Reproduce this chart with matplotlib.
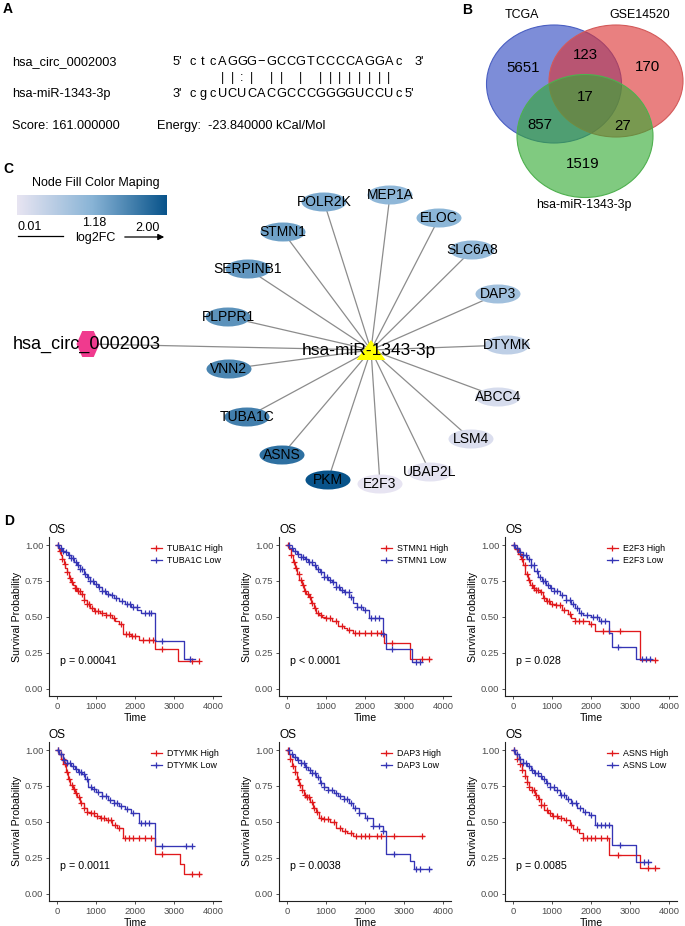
import numpy as np
import matplotlib
matplotlib.use('Agg')
import matplotlib.pyplot as plt
from matplotlib.patches import Ellipse, Polygon
from matplotlib.colors import LinearSegmentedColormap
from matplotlib.lines import Line2D

plt.rcParams['font.family'] = ['Liberation Sans', 'DejaVu Sans']

# ---------------- data ----------------
# A: miRanda alignment
circ_name = 'hsa_circ_0002003'
mir_name = 'hsa-miR-1343-3p'
seq_5 = 'ctcAGGG\u2212GCCGTCCCCAGGAc'
seq_3 = 'cgcUCUCACGCCCGGGGUCCUc'
pairs = '   ||:| || | |||||||| '
score = 161.0
energy = -23.84

# B: venn
venn_sets = ['TCGA', 'GSE14520', 'hsa-miR-1343-3p']
venn_regions = ['100', '010', '001', '110', '101', '011', '111']
venn_counts = [5651, 170, 1519, 123, 857, 27, 17]

# C: network
genes = ['MEP1A', 'POLR2K', 'ELOC', 'STMN1', 'SLC6A8', 'SERPINB1', 'DAP3', 'PLPPR1',
         'DTYMK', 'VNN2', 'ABCC4', 'TUBA1C', 'LSM4', 'ASNS', 'UBAP2L', 'PKM', 'E2F3']
log2fc = [0.95, 1.1, 0.97, 1.2, 0.9, 1.3, 0.75, 1.35,
          0.45, 1.5, 0.2, 1.55, 0.15, 1.7, 0.05, 2.0, 0.03]
fc_ticks = [0.01, 1.18, 2.00]

# D: Kaplan-Meier curves (time, survival after step) and censor times
km = {
    'TUBA1C': {
        'High': ([0, 30, 60, 90, 130, 170, 210, 250, 300, 350, 400, 450, 520, 600, 680, 760, 840, 950,
                  1100, 1250, 1400, 1500, 1600, 1700, 1900, 2100, 2500, 3100, 3650],
                 [1.0, .98, .96, .93, .90, .87, .84, .81, .77, .74, .72, .70, .68, .66, .62, .59, .56, .54,
                  .53, .51, .49, .47, .45, .38, .37, .34, .28, .19, .19],
                 [25, 70, 140, 200, 260, 330, 390, 450, 480, 540, 590, 640, 700, 770, 820, 900, 980, 1050,
                  1150, 1250, 1350, 1450, 1650, 1780, 1850, 1930, 2000, 2200, 2350, 2450, 2700, 3450, 3650]),
        'Low': ([0, 50, 120, 200, 280, 360, 440, 520, 600, 680, 760, 850, 950, 1050, 1150, 1250, 1350,
                 1450, 1600, 1750, 1900, 2050, 2150, 2500, 3250, 3550],
                [1.0, .98, .96, .95, .93, .91, .88, .86, .83, .80, .78, .75, .73, .71, .68, .66, .65,
                 .63, .61, .59, .57, .55, .53, .33, .21, .21],
                [20, 90, 160, 230, 300, 370, 420, 480, 540, 600, 650, 720, 790, 850, 920, 990, 1080, 1160,
                 1230, 1320, 1420, 1520, 1660, 1800, 1880, 1960, 2040, 2250, 2350, 2420, 2700, 3400]),
        'p': 'p = 0.00041'},
    'STMN1': {
        'High': ([0, 40, 90, 150, 200, 260, 320, 380, 440, 500, 560, 620, 680, 750, 820, 900, 1000, 1150,
                  1300, 1450, 1550, 1700, 2480, 3150, 3700],
                 [1.0, .97, .93, .88, .84, .80, .76, .72, .68, .66, .64, .60, .56, .53, .51, .50, .49, .47,
                  .44, .42, .41, .39, .32, .21, .21],
                 [30, 110, 180, 240, 300, 360, 420, 470, 530, 590, 650, 720, 800, 880, 1000, 1100, 1250, 1400,
                  1600, 1750, 1850, 2000, 2150, 2300, 2400, 2700, 3450, 3650]),
        'Low': ([0, 60, 150, 250, 350, 450, 550, 650, 750, 850, 950, 1050, 1150, 1250, 1350, 1450, 1600,
                 1700, 1800, 1950, 2100, 2450, 2530, 3200, 3450],
                [1.0, .98, .96, .94, .92, .90, .88, .86, .83, .81, .78, .76, .74, .71, .69, .67, .64,
                 .60, .57, .55, .49, .38, .28, .185, .185],
                [40, 120, 200, 280, 350, 420, 500, 570, 640, 720, 800, 880, 950, 1020, 1100, 1180, 1260, 1340,
                 1420, 1500, 1580, 1650, 1800, 1900, 2000, 2150, 2250, 2350, 2450, 2700, 3300, 3400]),
        'p': 'p < 0.0001'},
    'E2F3': {
        'High': ([0, 50, 120, 200, 260, 320, 380, 440, 520, 600, 700, 780, 850, 950, 1100, 1250, 1400,
                  1500, 1600, 1800, 1950, 2100, 3250, 3700],
                 [1.0, .97, .94, .90, .86, .80, .76, .72, .70, .69, .67, .63, .61, .59, .58, .55, .52,
                  .49, .47, .47, .45, .40, .20, .20],
                 [30, 100, 170, 230, 300, 350, 420, 480, 540, 600, 650, 720, 800, 860, 920, 1000, 1100, 1200,
                  1300, 1450, 1600, 1700, 1800, 2000, 2300, 2450, 2750, 3650]),
        'Low': ([0, 60, 150, 250, 350, 450, 550, 650, 750, 850, 950, 1050, 1200, 1350, 1500, 1600, 1700,
                 1800, 2000, 2200, 2450, 2530, 3150, 3550],
                [1.0, .98, .95, .93, .90, .86, .82, .78, .75, .72, .70, .68, .65, .62, .59, .56, .53,
                 .51, .50, .47, .39, .29, .21, .21],
                [20, 100, 180, 260, 330, 400, 470, 540, 610, 680, 760, 830, 900, 980, 1060, 1140, 1250, 1350,
                 1450, 1550, 1650, 1750, 1900, 2050, 2150, 2250, 2350, 2700, 3300, 3400, 3500]),
        'p': 'p = 0.028'},
    'DTYMK': {
        'High': ([0, 40, 100, 160, 220, 280, 340, 400, 460, 520, 600, 680, 760, 850, 950, 1100, 1250,
                  1400, 1550, 1700, 2500, 3150, 3250, 3700],
                 [1.0, .97, .94, .90, .85, .80, .76, .73, .70, .67, .63, .60, .57, .56, .54, .53, .51,
                  .48, .46, .39, .28, .21, .14, .14],
                 [30, 90, 150, 210, 260, 320, 380, 440, 500, 560, 620, 700, 780, 860, 940, 1020, 1120, 1200,
                  1300, 1380, 1500, 1600, 1750, 1850, 1950, 2100, 2250, 2400, 2700, 3450, 3650]),
        'Low': ([0, 60, 150, 250, 350, 450, 550, 650, 720, 800, 900, 1000, 1150, 1300, 1450, 1600, 1750,
                 1900, 2100, 2500, 3450],
                [1.0, .97, .93, .91, .89, .87, .85, .83, .80, .74, .73, .71, .68, .65, .63, .61, .59,
                 .56, .49, .33, .33],
                [20, 100, 180, 260, 340, 420, 500, 560, 620, 700, 780, 860, 950, 1050, 1150, 1250, 1350, 1450,
                 1550, 1650, 1800, 1950, 2150, 2250, 2350, 2700, 3300, 3450]),
        'p': 'p = 0.0011'},
    'DAP3': {
        'High': ([0, 30, 80, 140, 200, 260, 320, 380, 440, 500, 580, 660, 740, 820, 950, 1100, 1250,
                  1400, 1550, 1700, 3500],
                 [1.0, .97, .94, .89, .85, .80, .76, .72, .69, .67, .64, .60, .57, .53, .52, .50, .46,
                  .44, .42, .40, .40],
                 [20, 80, 150, 210, 270, 330, 390, 450, 510, 570, 630, 700, 780, 870, 960, 1050, 1200, 1350,
                  1500, 1650, 1780, 1900, 2000, 2100, 2300, 2400, 2750, 3450]),
        'Low': ([0, 60, 150, 250, 350, 450, 550, 650, 750, 850, 950, 1050, 1200, 1300, 1450, 1600, 1700,
                 1850, 2000, 2200, 2450, 2530, 3150, 3250, 3700],
                [1.0, .97, .95, .93, .91, .88, .86, .84, .81, .77, .74, .72, .70, .68, .66, .63, .60,
                 .56, .53, .47, .44, .28, .23, .17, .17],
                [40, 120, 200, 280, 360, 430, 500, 580, 650, 720, 800, 880, 960, 1050, 1150, 1250, 1350, 1450,
                 1550, 1650, 1750, 1850, 2050, 2200, 2350, 2450, 2750, 3300, 3400, 3650]),
        'p': 'p = 0.0038'},
    'ASNS': {
        'High': ([0, 40, 100, 170, 230, 300, 360, 420, 480, 560, 640, 720, 800, 900, 1000, 1150, 1300,
                  1450, 1550, 1700, 1800, 2450, 3250, 3750],
                 [1.0, .97, .94, .90, .86, .82, .78, .74, .72, .69, .66, .62, .58, .56, .54, .53, .51,
                  .48, .45, .42, .39, .27, .18, .18],
                 [30, 100, 180, 240, 300, 360, 420, 480, 540, 600, 660, 720, 790, 860, 940, 1020, 1120, 1220,
                  1350, 1500, 1650, 1800, 1900, 2000, 2100, 2250, 2400, 2700, 3450, 3650]),
        'Low': ([0, 60, 150, 250, 350, 450, 550, 650, 750, 850, 950, 1050, 1200, 1350, 1500, 1650, 1800,
                 1950, 2100, 2550, 3150, 3550],
                [1.0, .97, .94, .91, .89, .86, .84, .82, .80, .77, .74, .72, .69, .66, .63, .60, .57,
                 .55, .48, .34, .22, .22],
                [20, 100, 180, 260, 340, 420, 490, 560, 640, 720, 800, 880, 960, 1040, 1120, 1220, 1320, 1420,
                 1520, 1620, 1720, 1850, 2000, 2150, 2250, 2350, 2450, 2750, 3350, 3450]),
        'p': 'p = 0.0085'},
}
km_order = ['TUBA1C', 'STMN1', 'E2F3', 'DTYMK', 'DAP3', 'ASNS']

# ---------------- layout ----------------
fig = plt.figure(figsize=(6.85, 9.26), dpi=100)
ov = fig.add_axes([0, 0, 1, 1])
ov.set_xlim(0, 685)
ov.set_ylim(926, 0)
ov.axis('off')

# panel letters
for lab, (lx, ly) in zip('ABCD', [(3, 9), (462, 10), (3, 169), (4, 521)]):
    ov.text(lx, ly, lab, fontsize=10, fontweight='bold', va='center', ha='left')

# ----- A -----
fs_a = 9.2
ov.text(12, 62, circ_name, fontsize=fs_a, va='center')
ov.text(12, 94, mir_name, fontsize=fs_a, va='center')
ov.text(12, 126, 'Score: %.6f' % score, fontsize=fs_a, va='center')
ov.text(157, 126, 'Energy:  %.6f kCal/Mol' % energy, fontsize=fs_a, va='center')

# one character per column, as in the miRanda text output
col0, pitch = 193, 9.8
ov.text(173, 62, "5'", fontsize=fs_a, va='center')
ov.text(173, 94, "3'", fontsize=fs_a, va='center')
for i, ch in enumerate(seq_5):
    ov.text(col0 + i * pitch, 62, ch, fontsize=fs_a, ha='center', va='center')
for i, ch in enumerate(seq_3):
    ov.text(col0 + i * pitch, 94, ch, fontsize=fs_a, ha='center', va='center')
for i, ch in enumerate(pairs):
    if ch != ' ':
        ov.text(col0 + i * pitch, 78, ch, fontsize=fs_a, ha='center', va='center')
ov.text(col0 + (len(seq_5) + 0.6) * pitch, 62, "3'", fontsize=fs_a, ha='left', va='center')
ov.text(col0 + (len(seq_3) - 0.45) * pitch, 94, "5'", fontsize=fs_a, ha='left', va='center')

# ----- B -----
v_centers = [(554, 84), (616, 81), (585, 136)]
v_radii = [(67.5, 59), (67, 56), (68, 61.5)]
v_fill = ['#2E48C0', '#DD3333', '#33AA33']
v_edge = ['#4A5FC2', '#D35A5A', '#4FB04F']
for c, r, fc, ec in zip(v_centers, v_radii, v_fill, v_edge):
    ov.add_patch(Ellipse(c, 2 * r[0], 2 * r[1], facecolor=fc, alpha=0.62, edgecolor='none'))
    ov.add_patch(Ellipse(c, 2 * r[0], 2 * r[1], facecolor='none', edgecolor=ec, lw=0.8))
v_label_pos = [(522, 15), (640, 15), (584, 205)]
for name, (lx, ly) in zip(venn_sets, v_label_pos):
    ov.text(lx, ly, name, fontsize=8.9, ha='center', va='center')
v_count_pos = {'100': (523, 68), '010': (648, 67), '001': (583, 164), '110': (585, 55),
               '101': (540, 125), '011': (623, 126), '111': (585, 97)}
for key, n in zip(venn_regions, venn_counts):
    cx, cy = v_count_pos[key]
    ov.text(cx, cy, str(n), fontsize=10.8, ha='center', va='center')

# ----- C -----
cmap = LinearSegmentedColormap.from_list('fc', [(0, '#E8E5F2'), (0.5, '#89B4D6'), (1, '#08538A')])
grad = np.linspace(0, 1, 256).reshape(1, -1)
ov.imshow(grad, cmap=cmap, extent=(17, 167, 215, 195), aspect='auto', zorder=2)
ov.set_xlim(0, 685)
ov.set_ylim(926, 0)
ov.text(96, 183, 'Node Fill Color Maping', fontsize=9, ha='center', va='center')
ov.text(18, 227, '%.2f' % fc_ticks[0], fontsize=9, ha='left', va='center')
ov.text(94, 223, '%.2f' % fc_ticks[1], fontsize=9, ha='center', va='center')
ov.text(160, 228, '%.2f' % fc_ticks[2], fontsize=9, ha='right', va='center')
ov.text(95, 238, 'log2FC', fontsize=9, ha='center', va='center')
ov.plot([18, 63], [236, 236], color='black', lw=0.9)
ov.annotate('', xy=(167, 237), xytext=(122, 237),
            arrowprops=dict(arrowstyle='-|>', color='black', lw=0.9, mutation_scale=9))

node_xy = [(390, 195), (324, 202), (439, 218), (283, 232), (472, 250), (248, 269), (498, 294),
           (228, 317), (507, 345), (229, 369), (498, 397), (247, 417), (471, 439), (282, 455),
           (430, 472), (328, 480), (380, 484)]
hub = (371, 350)
circ_xy = (88, 344)
ov.plot([circ_xy[0], hub[0]], [circ_xy[1], hub[1]], color='#8C8C8C', lw=0.9, zorder=3)
for (nx, ny) in node_xy:
    ov.plot([hub[0], nx], [hub[1], ny], color='#8C8C8C', lw=0.9, zorder=3)
fc_norm = (np.array(log2fc) - fc_ticks[0]) / (fc_ticks[2] - fc_ticks[0])
for (nx, ny), g, v in zip(node_xy, genes, fc_norm):
    ov.add_patch(Ellipse((nx, ny), 45, 19, facecolor=cmap(v), edgecolor='none', zorder=4))
    ov.text(nx, ny, g, fontsize=10, ha='center', va='center', zorder=6)

# hexagon for circRNA, triangle for miRNA
hw, hh = 23, 26
hexv = [(circ_xy[0] - hw / 2, circ_xy[1]), (circ_xy[0] - hw / 4, circ_xy[1] - hh / 2),
        (circ_xy[0] + hw / 4, circ_xy[1] - hh / 2), (circ_xy[0] + hw / 2, circ_xy[1]),
        (circ_xy[0] + hw / 4, circ_xy[1] + hh / 2), (circ_xy[0] - hw / 4, circ_xy[1] + hh / 2)]
ov.add_patch(Polygon(hexv, closed=True, facecolor='#F03A8E', edgecolor='none', zorder=4))
ov.text(13, circ_xy[1], circ_name, fontsize=13, ha='left', va='center', zorder=6)
tw, th = 29, 20
triv = [(hub[0] - tw / 2, hub[1] + th / 2), (hub[0] + tw / 2, hub[1] + th / 2), (hub[0], hub[1] - th / 2)]
ov.add_patch(Polygon(triv, closed=True, facecolor='#FFFF00', edgecolor='none', zorder=4))
ov.text(hub[0] - 2, hub[1], mir_name, fontsize=12.5, ha='center', va='center', zorder=6)

# ----- D -----
red, blue = '#E0191C', '#3535B5'
lefts = [49, 279, 505, 49, 279, 505]
bottoms = [696, 696, 696, 901, 901, 901]
W, H = 172, 159


def step_at(t, s, q):
    idx = np.searchsorted(np.array(t), np.array(q), side='right') - 1
    return np.array(s)[idx]


for k, gene in enumerate(km_order):
    ax = fig.add_axes([lefts[k] / 685, 1 - bottoms[k] / 926, W / 685, H / 926])
    for grp, col in [('High', red), ('Low', blue)]:
        t, s, cens = km[gene][grp]
        ax.step(t, s, where='post', color=col, lw=0.95)
        ax.plot(cens, step_at(t, s, cens), linestyle='none', marker='+', ms=4.5, mew=0.9, color=col)
    ax.set_xlim(-205, 4205)
    ax.set_ylim(-0.05, 1.056)
    ax.set_xticks([0, 1000, 2000, 3000, 4000])
    ax.set_yticks([0, 0.25, 0.5, 0.75, 1.0])
    ax.set_yticklabels(['0.00', '0.25', '0.50', '0.75', '1.00'])
    for sp in ['top', 'right']:
        ax.spines[sp].set_visible(False)
    for sp in ['left', 'bottom']:
        ax.spines[sp].set_linewidth(0.8)
        ax.spines[sp].set_color('#222222')
    ax.tick_params(length=2.5, width=0.6, labelsize=6.8, labelcolor='#4D4D4D', pad=1.5, color='#333333')
    ax.set_ylabel('Survival Probability', fontsize=7.6, labelpad=2)
    ax.set_xlabel('Time', fontsize=7.6, labelpad=1.5)
    ax.set_title('OS', loc='left', fontsize=8.6, pad=3)
    ax.text(70, 0.19, km[gene]['p'], fontsize=7.7, ha='left', va='center')
    handles = [Line2D([], [], color=red, marker='+', ms=4.5, mew=0.9, lw=0.9),
               Line2D([], [], color=blue, marker='+', ms=4.5, mew=0.9, lw=0.9)]
    ax.legend(handles, [gene + ' High', gene + ' Low'], loc='upper left', bbox_to_anchor=(0.57, 0.98),
              frameon=False, fontsize=6.4, handlelength=1.3, handletextpad=0.5, labelspacing=0.35,
              borderaxespad=0)

fig.savefig('out.png', dpi=100)
